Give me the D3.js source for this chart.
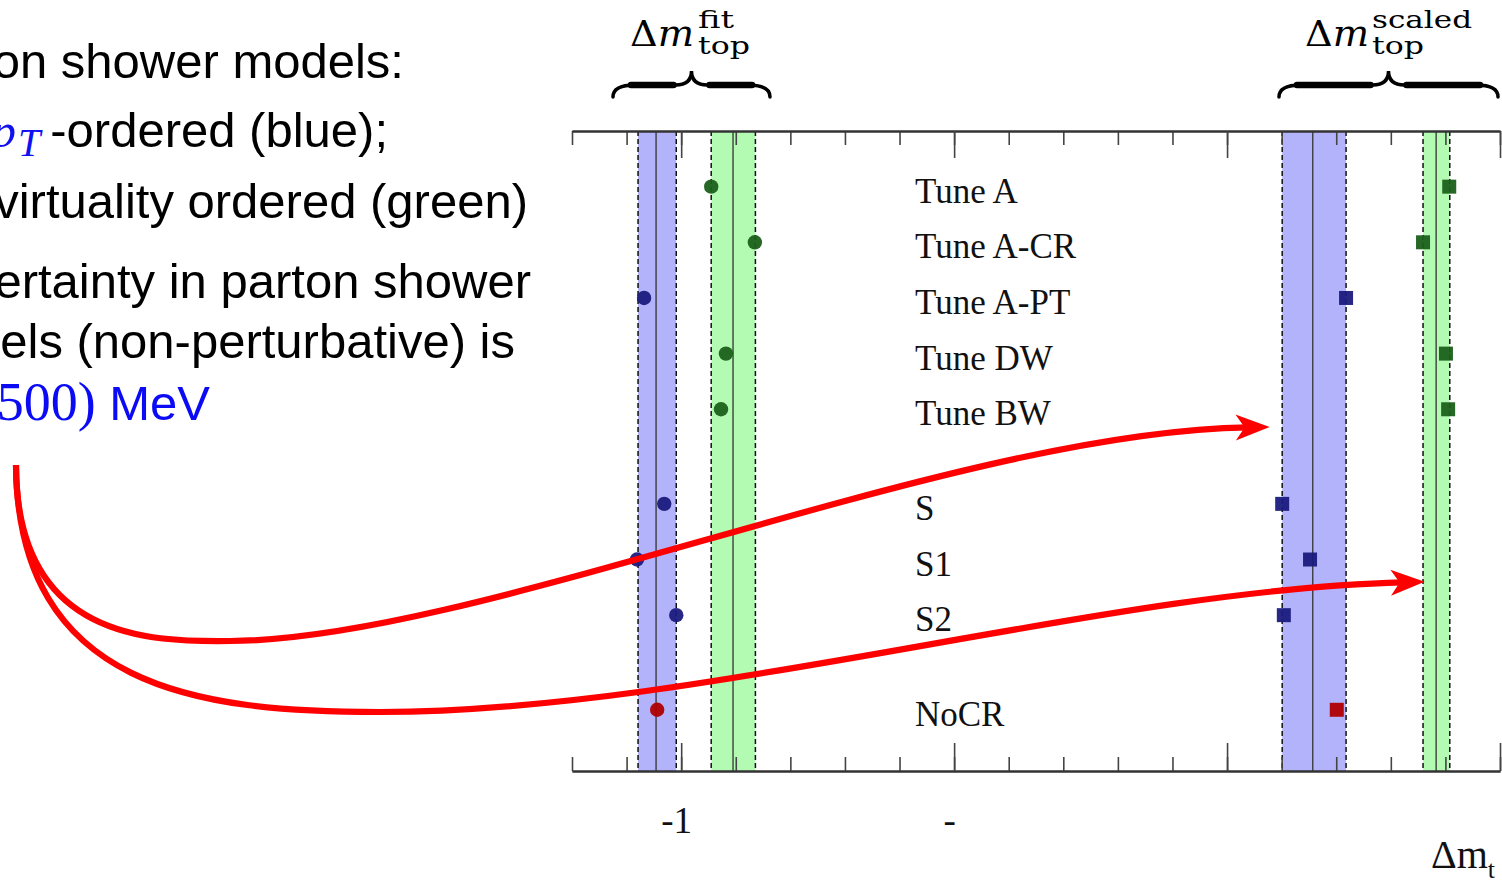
<!DOCTYPE html>
<html>
<head>
<meta charset="utf-8">
<script src="https://cdn.jsdelivr.net/npm/d3@7"></script>
<style>
body { margin: 0; background: #fff; overflow: hidden; }
svg { display: block; }
</style>
</head>
<body>
<script>
(function(){
// rows of the plot, top to bottom
var rows = ["Tune A", "Tune A-CR", "Tune A-PT", "Tune DW", "Tune BW", "S", "S1", "S2", "NoCR"];
var rowPos = [0, 1, 2, 3, 4, 5.7, 6.7, 7.7, 9.4];
// shower model of each row: pT-ordered, virtuality ordered, no colour reconnection
var rowModel = ["virt", "virt", "pt", "virt", "virt", "pt", "pt", "pt", "nocr"];
// shift of the top mass, fit (circles) and scaled (squares)
var fitShift = [-0.945, -0.865, -1.068, -0.918, -0.927, -1.031, -1.081, -1.009, -1.044];
var scaledShift = [0.407, 0.359, 0.218, 0.401, 0.405, 0.101, 0.152, 0.104, 0.201];

// mean +- spread bands
var bandModel = ["pt", "virt", "pt", "virt"];
var bandCenter = [-1.046, -0.905, 0.157, 0.383];
var bandLow = [-1.079, -0.945, 0.101, 0.359];
var bandHigh = [-1.009, -0.864, 0.218, 0.408];

// axis
var majorTicks = [-1, -0.5, 0, 0.5];
var tickLabels = ["-1", "-", "", ""];

var markColor = {pt: "#1b1b7e", virt: "#1b601b", nocr: "#b00000"};
var bandColor = {pt: "#b3b3fb", virt: "#b3fbb3"};

var W = 1502, H = 880;
var svg = d3.select("body").append("svg")
    .attr("width", W)
    .attr("height", H);

var x = d3.scaleLinear().domain([-1.2, 0.5]).range([572, 1500]);
var y = d3.scaleLinear().domain([-1, 10.5]).range([131, 771]);
var minorTicks = d3.range(-12, 6).map(function(d) { return d / 10; });

var plot = svg.append("g");

// bands
bandCenter.forEach(function(c, i) {
  plot.append("rect")
      .attr("x", x(bandLow[i]))
      .attr("y", y(-1))
      .attr("width", x(bandHigh[i]) - x(bandLow[i]))
      .attr("height", y(10.5) - y(-1))
      .style("fill", bandColor[bandModel[i]]);
  [bandLow[i], bandHigh[i]].forEach(function(v) {
    plot.append("line")
        .attr("x1", x(v)).attr("x2", x(v))
        .attr("y1", y(-1)).attr("y2", y(10.5))
        .style("stroke", "#111")
        .style("stroke-width", 1.5)
        .style("stroke-dasharray", "5,3");
  });
  plot.append("line")
      .attr("x1", x(c)).attr("x2", x(c))
      .attr("y1", y(-1)).attr("y2", y(10.5))
      .style("stroke", "#333")
      .style("stroke-width", 1.3);
});

// axes, ticks pointing inwards
function styleAxis(g) {
  g.selectAll(".domain").style("stroke", "#333").style("stroke-width", 2);
  g.selectAll(".tick line").style("stroke", "#444").style("stroke-width", 1.6);
}
plot.append("g")
    .attr("transform", "translate(0," + y(-1) + ")")
    .call(d3.axisBottom(x).tickValues(minorTicks).tickSize(14).tickFormat("").tickSizeOuter(0))
    .call(styleAxis);
plot.append("g")
    .attr("transform", "translate(0," + y(-1) + ")")
    .call(d3.axisBottom(x).tickValues(majorTicks).tickSize(27).tickFormat("").tickSizeOuter(0))
    .call(styleAxis);
plot.append("g")
    .attr("transform", "translate(0," + y(10.5) + ")")
    .call(d3.axisTop(x).tickValues(minorTicks).tickSize(14).tickFormat("").tickSizeOuter(0))
    .call(styleAxis);
plot.append("g")
    .attr("transform", "translate(0," + y(10.5) + ")")
    .call(d3.axisTop(x).tickValues(majorTicks).tickSize(28).tickFormat("").tickSizeOuter(0))
    .call(styleAxis);

// tick labels, far below the axis
var lab = plot.append("g")
    .attr("transform", "translate(0," + y(10.5) + ")")
    .call(d3.axisBottom(x).tickValues(majorTicks).tickSize(0).tickPadding(36)
      .tickFormat(function(d, i) { return tickLabels[i]; }));
lab.select(".domain").remove();
lab.selectAll("text")
    .attr("dx", -5)
    .style("font-family", "'Liberation Serif', 'Times New Roman', serif")
    .style("font-size", "37px")
    .style("fill", "#111");

svg.append("text")
    .attr("x", 1431).attr("y", 868)
    .style("font-family", "'Liberation Serif', 'Times New Roman', serif")
    .style("font-size", "40px")
    .style("fill", "#111")
    .text("\u0394m")
  .append("tspan")
    .attr("dy", 10)
    .style("font-size", "26px")
    .text("t");

// row labels
plot.selectAll(".rowlab")
    .data(rows)
  .enter().append("text")
    .attr("x", 915)
    .attr("y", function(d, i) { return y(rowPos[i]) + 16; })
    .style("font-family", "'Liberation Serif', 'Times New Roman', serif")
    .style("font-size", "35px")
    .style("fill", "#111")
    .text(function(d) { return d; });

// fit values: circles
plot.selectAll(".fit")
    .data(fitShift)
  .enter().append("circle")
    .attr("cx", function(d) { return x(d); })
    .attr("cy", function(d, i) { return y(rowPos[i]); })
    .attr("r", 7.2)
    .style("fill", function(d, i) { return markColor[rowModel[i]]; })
    .style("opacity", 0.95);

// scaled values: squares
plot.selectAll(".scaled")
    .data(scaledShift)
  .enter().append("rect")
    .attr("x", function(d) { return x(d) - 7; })
    .attr("y", function(d, i) { return y(rowPos[i]) - 7; })
    .attr("width", 14)
    .attr("height", 14)
    .style("fill", function(d, i) { return markColor[rowModel[i]]; })
    .style("opacity", 0.95);

// braces and their labels
function brace(x0, x1, yb) {
  var xm = (x0 + x1) / 2, ya = yb - 12, tip = yb - 26;
  return "M" + x0 + "," + yb + " Q" + x0 + "," + ya + " " + (x0 + 22) + "," + ya +
    " L" + (xm - 16) + "," + ya + " Q" + xm + "," + ya + " " + xm + "," + tip +
    " Q" + xm + "," + ya + " " + (xm + 16) + "," + ya +
    " L" + (x1 - 22) + "," + ya + " Q" + x1 + "," + ya + " " + x1 + "," + yb;
}
var serifCM = "'DejaVu Serif', 'Liberation Serif', serif";
[[613, 770, "fit", 630, 698, 36], [1279, 1498, "scaled", 1305, 1372, 100]].forEach(function(b) {
  var xm = (b[0] + b[1]) / 2;
  svg.append("path")
      .attr("d", brace(b[0], b[1], 97))
      .style("fill", "none")
      .style("stroke", "#000")
      .style("stroke-width", 3.5)
      .style("stroke-linecap", "round");
  // thicker middle of the arms
  [[b[0] + 18, xm - 18], [xm + 18, b[1] - 18]].forEach(function(s) {
    svg.append("line")
        .attr("x1", s[0]).attr("x2", s[1])
        .attr("y1", 85).attr("y2", 85)
        .style("stroke", "#000")
        .style("stroke-width", 6.5)
        .style("stroke-linecap", "round");
  });
  var t = svg.append("text")
      .attr("x", b[3]).attr("y", 46)
      .attr("textLength", 64)
      .attr("lengthAdjust", "spacingAndGlyphs")
      .style("font-family", serifCM)
      .style("font-size", "35px")
      .style("fill", "#000");
  t.append("tspan").text("\u0394");
  t.append("tspan").style("font-style", "italic").text("m");
  svg.append("text")
      .attr("x", b[4]).attr("y", 28)
      .attr("textLength", b[5])
      .attr("lengthAdjust", "spacingAndGlyphs")
      .style("font-family", serifCM)
      .style("font-size", "25px")
      .text(b[2]);
  svg.append("text")
      .attr("x", b[4]).attr("y", 54)
      .attr("textLength", 52)
      .attr("lengthAdjust", "spacingAndGlyphs")
      .style("font-family", serifCM)
      .style("font-size", "25px")
      .text("top");
});

// slide text on the left
var sans = "'Liberation Sans', Arial, Helvetica, sans-serif";
var lines = [
  {y: 78, end: 404, text: "Parton shower models:"},
  {y: 218, end: 528, text: "virtuality ordered (green)"},
  {y: 298, end: 531, text: "Uncertainty in parton shower"},
  {y: 358, end: 515, text: "models (non-perturbative) is"}
];
lines.forEach(function(l) {
  svg.append("text")
      .attr("x", l.end).attr("y", l.y)
      .attr("text-anchor", "end")
      .style("font-family", sans)
      .style("font-size", "49px")
      .style("fill", "#000")
      .text(l.text);
});
var l2 = svg.append("text")
    .attr("x", 388).attr("y", 147)
    .attr("text-anchor", "end")
    .style("font-size", "49px");
l2.append("tspan")
    .style("font-family", "'Liberation Serif', serif").style("font-style", "italic")
    .style("fill", "#1010f0").text("p");
l2.append("tspan")
    .attr("dy", 9)
    .attr("dx", 2)
    .style("font-family", "'Liberation Serif', serif").style("font-style", "italic")
    .style("font-size", "40px").style("fill", "#1010f0").text("T");
l2.append("tspan")
    .attr("dy", -9)
    .attr("dx", 10)
    .style("font-family", sans).style("fill", "#000").text("-ordered (blue);");
var l6 = svg.append("text")
    .attr("x", 210).attr("y", 420)
    .attr("text-anchor", "end")
    .style("font-size", "49px")
    .style("fill", "#0a0af5");
l6.append("tspan").style("font-family", "'Liberation Serif', serif").style("font-size", "54px").text("500)");
l6.append("tspan").style("font-family", sans).text(" MeV");

// red arrows from the text to the scaled bands
var start = [16, 465];
var arrows = [
  {mid: [230, 641], c: [[16, 640], [150, 642], [480, 640], [950, 432]], tip: [x(0.1) - 12, y(4.32)]},
  {mid: [380, 712], c: [[18, 690], [200, 712], [700, 712], [1100, 590]], tip: [x(0.362), y(7.1)]}
];
arrows.forEach(function(a) {
  var ang = Math.atan2(a.tip[1] - a.c[3][1], a.tip[0] - a.c[3][0]);
  var endX = a.tip[0] - 22 * Math.cos(ang), endY = a.tip[1] - 22 * Math.sin(ang);
  var p = d3.path();
  p.moveTo(start[0], start[1]);
  p.bezierCurveTo(a.c[0][0], a.c[0][1], a.c[1][0], a.c[1][1], a.mid[0], a.mid[1]);
  p.bezierCurveTo(a.c[2][0], a.c[2][1], a.c[3][0], a.c[3][1], endX, endY);
  svg.append("path")
      .attr("d", p.toString())
      .style("fill", "none")
      .style("stroke", "#ff0000")
      .style("stroke-width", 6.2);
  svg.append("path")
      .attr("d", "M0,0 L-34,-13 L-25,0 L-34,13 Z")
      .attr("transform", "translate(" + a.tip[0] + "," + a.tip[1] + ") rotate(" + (ang * 180 / Math.PI) + ")")
      .style("fill", "#ff0000");
});
})();
</script>
</body>
</html>
